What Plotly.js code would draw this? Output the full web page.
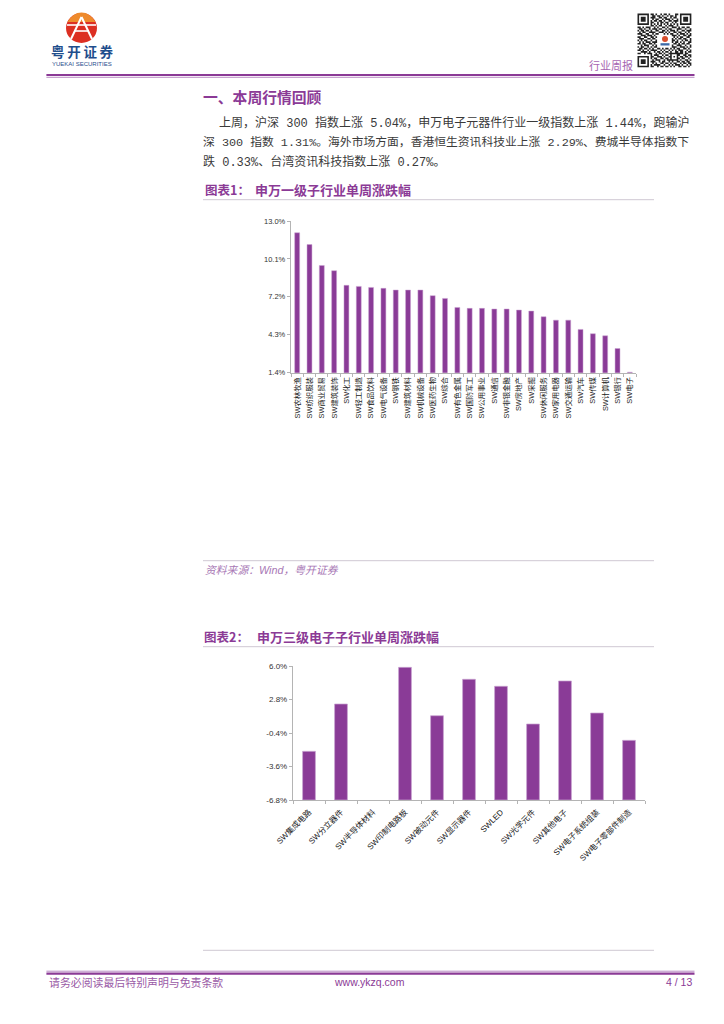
<!DOCTYPE html>
<html><head><meta charset="utf-8">
<script src="https://cdn.plot.ly/plotly-3.0.1.min.js"></script>
<style>html,body{margin:0;padding:0;background:#fff}#c{width:724px;height:1024px}</style>
</head><body><div id="c"></div>
<script>
const categories1 = ['SW农林牧渔','SW纺织服装','SW商业贸易','SW建筑装饰','SW化工','SW轻工制造','SW食品饮料','SW电气设备','SW钢铁','SW建筑材料','SW机械设备','SW医药生物','SW综合','SW有色金属','SW国防军工','SW公用事业','SW通信','SW非银金融','SW房地产','SW采掘','SW休闲服务','SW家用电器','SW交通运输','SW汽车','SW传媒','SW计算机','SW银行','SW电子'];
const values1 = [12.1,11.2,9.6,9.2,8.08,8.0,7.92,7.85,7.72,7.72,7.72,7.29,7.08,6.39,6.32,6.32,6.27,6.27,6.19,6.11,5.68,5.42,5.42,4.71,4.38,4.22,3.25,1.44];
const ticks1 = [1.4,4.3,7.2,10.1,13.0];
const categories2 = ['SW集成电路','SW分立器件','SW半导体材料','SW印制电路板','SW被动元件','SW显示器件','SWLED','SW光学元件','SW其他电子','SW电子系统组装','SW电子零部件制造'];
const values2 = [-2.15,2.37,-6.8,5.87,1.25,4.73,4.06,0.46,4.57,1.51,-1.1];
const ticks2 = [-6.8,-3.6,-0.4,2.8,6.0];
const base2 = -6.8;

const W=724,H=1024;
const PURPLE='#8b3a96', BAR='#8a3b97', EDGE='#c9a3d1', AXIS='#b4b4b4';
const px=x=>x/W, py=y=>1-y/H;
const CJK='"Noto Sans CJK SC"';
const SANS='"Liberation Sans","Noto Sans CJK SC",sans-serif';
const MONO='"Liberation Mono","Noto Sans CJK SC",monospace';

function note(text,x,y,size,color,opt){opt=opt||{};
  return {text:text,x:px(x),y:py(y),xref:'paper',yref:'paper',showarrow:false,borderpad:0,borderwidth:0,
    xanchor:opt.anchor||'left',yanchor:'middle',align:opt.anchor||'left',
    font:{family:opt.family||SANS,size:size,color:color,weight:opt.weight||400,style:opt.style||'normal'}};
}
function hline(x0,x1,y,color,w){return {type:'line',xref:'paper',yref:'paper',x0:px(x0),x1:px(x1),y0:py(y),y1:py(y),line:{color:color,width:w},layer:'below'};}
function seg(x0,y0,x1,y1,color,w){return {type:'line',xref:'paper',yref:'paper',x0:px(x0),x1:px(x1),y0:py(y0),y1:py(y1),line:{color:color,width:w}};}

const annotations=[
  note('粤\u2009开\u2009证\u2009券',51,50.5,13.5,'#1f4e8c',{weight:700,family:CJK}),
  note('YUEKAI SECURITIES',51.5,63.5,6,'#1f4e8c'),
  note('行业周报',589,65,11,'#a765b2',{family:CJK}),
  note('一、本周行情回顾',203,96,14.8,PURPLE,{weight:700,family:CJK}),
  note('上周，沪深 300 指数上涨 5.04%，申万电子元器件行业一级指数上涨 1.44%，跑输沪',219,123,12,'#3a3a3a',{family:MONO}),
  note('深 300 指数 1.31%。海外市场方面，香港恒生资讯科技业上涨 2.29%、费城半导体指数下',203,142,11.8,'#3a3a3a',{family:MONO}),
  note('跌 0.33%、台湾资讯科技指数上涨 0.27%。',203,162,12,'#3a3a3a',{family:MONO}),
  note('图表1：',205,189.5,12.5,PURPLE,{weight:700,family:CJK}),
  note('申万一级子行业单周涨跌幅',255,189.5,13,PURPLE,{weight:700,family:CJK}),
  note('资料来源：Wind，粤开证券',205,570,10.8,'#a877b5',{style:'italic'}),
  note('图表2：',204,636,12.5,PURPLE,{weight:700,family:CJK}),
  note('申万三级电子子行业单周涨跌幅',257,636,13,PURPLE,{weight:700,family:CJK}),
  note('请务必阅读最后特别声明与免责条款',49,982,10.9,'#9a5aa6',{family:CJK}),
  note('www.ykzq.com',369.5,982,10.5,'#8b3a96',{anchor:'center'}),
  note('4 / 13',692,982,10.5,'#8b3a96',{anchor:'right'})
];

// QR decoration
const qrRows=[
'1111111011010010110100011011111110',
'1000001001101101001011010010000010',
'1011101011100110110010110010111010',
'1011101001011001011101001010111010',
'1011101010110110100110111010111010',
'1000001011001011011001010010000010',
'1111111010101010101010101011111110',
'0000000011010110010111001000000000',
'1101011100101001101001110101101100',
'0110100101110110010110001110010010',
'1011011010011001101011101001101110',
'0101100111100111010100110110010100',
'1110011001011000101011001011101010',
'0011101110100000000001110100110110',
'1100110011010000000000101011001100',
'0111001101100000000001010110110010',
'1010110010010000000001101001011010',
'0101011101110000000001011010100110',
'1101100110100000000000110101101100',
'0010111001010000000001001110010010',
'1011001010110000000001110011101010',
'0110110101001101011010101100110100',
'1101001011110010100101010111001010',
'0011110100101101011010011011010110',
'1100101110010110100111111111011000',
'0000000010111001011010001100110110',
'1111111011001110100110101011011010',
'1000001010110011011010001101100100',
'1011101001011100101111111010011010',
'1011101011100101100101001101101100',
'1011101001010011011010110010110110',
'1000001010111100100101011101001010',
'1111111011001011011010100110110100'
];
const qx=637.5,qy=13.5,qm=55.5/34;
let qrPath='';
qrRows.forEach((r,j)=>{[...r].forEach((c,i)=>{ if(c==='1'){
  const a=px(qx+i*qm),b=px(qx+(i+1)*qm),t=py(qy+j*qm),u=py(qy+(j+1)*qm);
  qrPath+=`M${a} ${t}L${b} ${t}L${b} ${u}L${a} ${u}Z`;
}});});

const logoTop=`M${px(67.5)} ${py(22)}Q${px(73)} ${py(12.5)} ${px(81.5)} ${py(12.5)}Q${px(90)} ${py(12.5)} ${px(95.5)} ${py(22)}Z`;
const shapes=[
  hline(46.4,694.5,75,PURPLE,2.2), hline(46.4,694.5,77.3,'#b98cc4',1),
  hline(203,654,199.7,'#cfc8d3',1), hline(203,654,560.7,'#cfc8d3',1),
  hline(203,654,646.7,'#cfc8d3',1), hline(203,654,950.3,'#cfc8d3',1),
  hline(46.4,694.5,971.2,'#b98cc4',1), hline(46.4,694.5,973.6,PURPLE,2.2),
  {type:'circle',xref:'paper',yref:'paper',x0:px(66),x1:px(97),y0:py(43),y1:py(13),fillcolor:'#dc2f22',line:{width:0}},
  {type:'path',xref:'paper',yref:'paper',path:logoTop,fillcolor:'#ee8a2c',line:{width:0}},
  seg(81.5,17,71,39,'#fff',2), seg(81.5,17,92,39,'#fff',2),
  seg(67,25,96,25,'#fff',1.6), seg(74,31,89,31,'#fff',1.6),
  {type:'path',xref:'paper',yref:'paper',path:qrPath,fillcolor:'#222',line:{width:0}},
  {type:'rect',xref:'paper',yref:'paper',x0:px(659),x1:px(671),y0:py(47),y1:py(35),fillcolor:'#fff',line:{width:0}},
  {type:'circle',xref:'paper',yref:'paper',x0:px(662),x1:px(668),y0:py(42),y1:py(36),fillcolor:'#d9502e',line:{width:0}},
  {type:'rect',xref:'paper',yref:'paper',x0:px(660.5),x1:px(669.5),y0:py(45.5),y1:py(43.2),fillcolor:'#3d6aa8',line:{width:0}}
];

const trace1={type:'bar',x:categories1,y:values1,xaxis:'x',yaxis:'y',marker:{color:BAR,line:{color:EDGE,width:0.5}},hoverinfo:'x+y'};
const trace2={type:'bar',x:categories2,y:values2.map(v=>v-base2),base:base2,xaxis:'x2',yaxis:'y2',marker:{color:BAR,line:{color:EDGE,width:values2.map(v=>v===base2?0:0.7)}},hoverinfo:'x'};

function yAxis(domain,range,ticks,size,anchor){return {domain:domain,range:range,anchor:anchor,tickmode:'array',tickvals:ticks,ticktext:ticks.map(t=>t.toFixed(1)+'%'),
  showgrid:false,zeroline:false,showline:true,linecolor:AXIS,linewidth:1.2,ticks:'outside',ticklen:3,tickcolor:AXIS,tickwidth:1,
  tickfont:{family:SANS,size:size,color:'#333'}};}
function xAxis(domain,angle,size,anchor,standoff){return {domain:domain,anchor:anchor,type:'category',tickangle:angle,tickson:'boundaries',automargin:false,ticklabelstandoff:standoff,
  showgrid:false,zeroline:false,showline:true,linecolor:AXIS,linewidth:1.4,ticks:'outside',ticklen:3,tickcolor:AXIS,tickwidth:1,
  tickfont:{family:SANS,size:size,color:'#222'}};}

const layout={width:W,height:H,margin:{l:0,r:0,t:0,b:0},paper_bgcolor:'#fff',plot_bgcolor:'rgba(0,0,0,0)',showlegend:false,
  bargap:0.6,annotations:annotations,shapes:shapes,
  xaxis:xAxis([px(291),px(636)],-90,7.4,'y',0),
  yaxis:yAxis([py(372.7),py(221)],[1.4,13],ticks1,7.5,'x'),
  xaxis2:xAxis([px(293),px(645)],-45,8,'y2',3),
  yaxis2:yAxis([py(800),py(666)],[-6.8,6],ticks2,8,'x2')
};
Plotly.newPlot('c',[trace1,trace2],layout,{staticPlot:true,displayModeBar:false});
</script></body></html>
